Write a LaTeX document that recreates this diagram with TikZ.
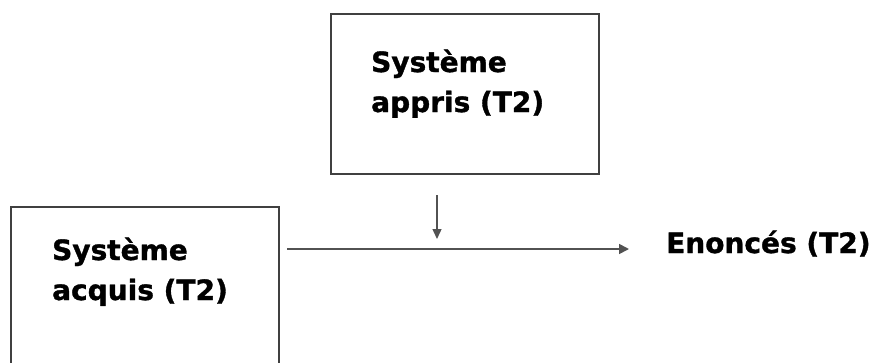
\documentclass[tikz,border=0pt]{standalone}
\usepackage{fontspec}
\setmainfont{DejaVu Sans}[BoldFeatures={FakeBold=1.2}]
\usetikzlibrary{arrows.meta}
\tikzset{
  boxnode/.style={draw=black!75, line width=1.7pt, minimum width=268pt, inner sep=0pt, anchor=north west},
  lbl/.style={font=\bfseries\fontsize{28pt}{40pt}\selectfont, align=left, inner sep=0pt, text=black},
  conn/.style={draw=black!68, line width=1.7pt, -{Triangle[length=10pt,width=10pt]}}
}
\begin{document}
\begin{tikzpicture}[x=1pt,y=-1pt]
\useasboundingbox[fill=white] (0,0) rectangle (884,362);
\clip (0,0) rectangle (884,362);
\node[boxnode, minimum height=160pt] (appris) at (330,13) {};
\node[lbl, anchor=base west] (appristxt) at (371,112) {Système\\appris (T2)};
\node[boxnode, minimum height=190pt] (acquis) at (10,206) {};
\node[lbl, anchor=base west] (acquistxt) at (52,300) {Système\\acquis (T2)};
\node[lbl, anchor=base west] (enonces) at (666,253) {Enoncés (T2)};
\coordinate (hstart) at (287,249);
\coordinate (hend) at (629,249);
\coordinate (vstart) at (437,195);
\coordinate (vend) at (437,239);
\draw[conn] (hstart) -- (hend);
\draw[conn, line width=1.4pt, -{Triangle[length=10pt,width=9pt]}] (vstart) -- (vend);
\end{tikzpicture}
\end{document}
